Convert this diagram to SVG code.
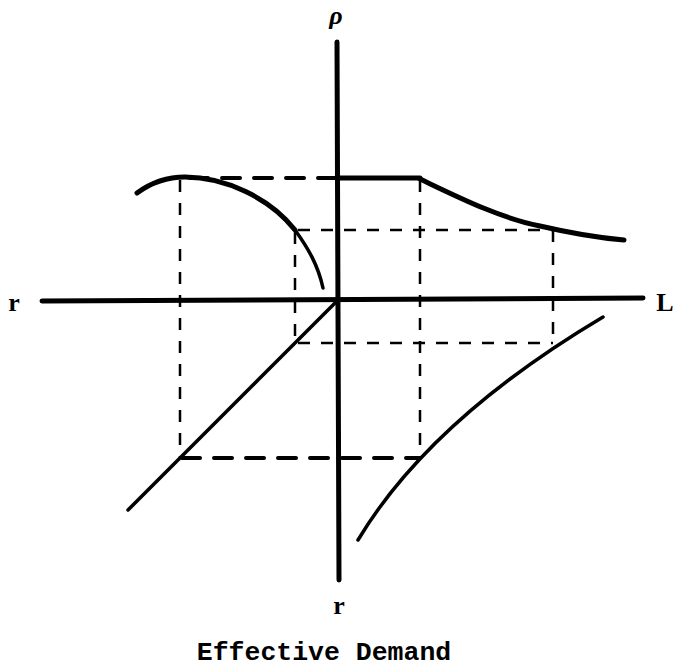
<svg xmlns="http://www.w3.org/2000/svg" width="673" height="671" viewBox="0 0 673 671">
<style>
.axis{stroke:#000;stroke-width:5;fill:none;stroke-linecap:round}
.curve{stroke:#000;stroke-width:3.5;fill:none;stroke-linecap:round}
.thick{stroke:#000;stroke-width:5;fill:none;stroke-linecap:round}
.dash{stroke:#000;stroke-width:2.5;fill:none;stroke-dasharray:12 11}
.dashb{stroke:#000;stroke-width:4;fill:none;stroke-dasharray:18 14;stroke-linecap:round}
.lbl{font-family:"Liberation Serif","DejaVu Serif",serif;font-weight:bold;fill:#000}
.title{font-family:"Liberation Mono","DejaVu Sans Mono",monospace;font-weight:bold;fill:#000}
.greek{font-family:"Liberation Serif","DejaVu Serif",serif;font-style:italic;font-weight:bold;fill:#000}
</style>
<rect width="673" height="671" fill="#fff"/>
<g id="connectors">
<line class="dash" x1="180" y1="180" x2="180" y2="458"/>
<line class="dash" x1="295" y1="232" x2="295" y2="343"/>
<line class="dash" x1="420" y1="180" x2="420" y2="458"/>
<line class="dash" x1="553" y1="230" x2="553" y2="343"/>
<line class="dash" x1="298" y1="230" x2="553" y2="230"/>
<line class="dash" x1="298" y1="343" x2="553" y2="343"/>
<line class="dashb" x1="190" y1="178" x2="337" y2="178"/>
<line class="dashb" x1="182" y1="458" x2="420" y2="458"/>
</g>
<g id="axes">
<line class="axis" x1="337" y1="42" x2="339" y2="580"/>
<line class="axis" x1="42" y1="301" x2="643" y2="298"/>
</g>
<g id="curves">
<path class="thick" d="M137,193 C152,182 170,177 185,177 C225,177 270,198 295,230"/>
<path class="curve" d="M295,230 C308,248 318,265 323,288"/>
<line class="thick" x1="337" y1="178" x2="420" y2="178"/>
<path class="thick" d="M420,179 C460,198 500,218 540,226 C570,233 600,238 624,240"/>
<line class="curve" x1="128" y1="510" x2="337" y2="301"/>
<path class="curve" d="M358,540 Q430,420 603,317"/>
</g>
<g id="labels">
<text class="greek" x="336" y="24" font-size="26" text-anchor="middle">ρ</text>
<text class="lbl" x="14" y="311" font-size="26" text-anchor="middle">r</text>
<text class="lbl" x="665" y="311" font-size="26" text-anchor="middle">L</text>
<text class="lbl" x="339" y="614" font-size="26" text-anchor="middle">r</text>
<text class="title" x="324" y="660" font-size="26.5" text-anchor="middle">Effective Demand</text>
</g>
</svg>
